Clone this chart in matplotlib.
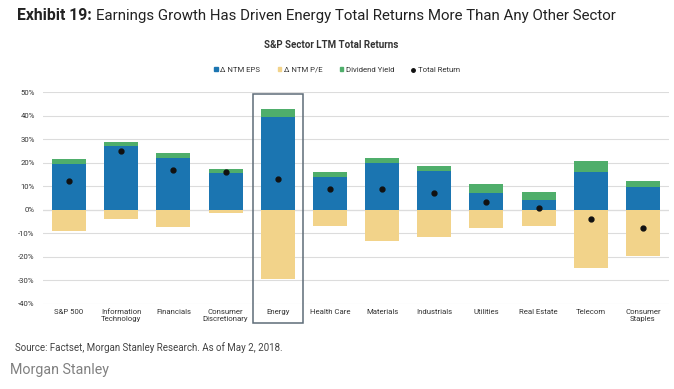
import matplotlib.pyplot as plt
from matplotlib.patches import Rectangle, Patch
from matplotlib.lines import Line2D
import numpy as np

sectors = ["S&P 500", "Information\nTechnology", "Financials", "Consumer\nDiscretionary",
           "Energy", "Health Care", "Materials", "Industrials", "Utilities",
           "Real Estate", "Telecom", "Consumer\nStaples"]
ntm_eps = [19.3, 27.2, 22.0, 15.5, 39.3, 14.0, 19.7, 16.6, 7.2, 4.0, 15.9, 9.5]
ntm_pe = [-8.9, -4.0, -7.4, -1.3, -29.6, -6.8, -13.2, -11.5, -7.8, -6.8, -24.9, -19.7]
div_yield = [2.1, 1.6, 2.2, 1.8, 3.4, 1.9, 2.3, 2.1, 3.7, 3.4, 5.0, 2.6]
total_return = [12.3, 24.8, 16.8, 15.9, 13.1, 8.9, 8.8, 7.2, 3.3, 0.6, -4.1, -7.7]

BLUE = "#1b75b1"
YELLOW = "#f2d38a"
GREEN = "#4fae6b"
W, H = 674, 389

plt.rcParams['font.family'] = ['Roboto', 'DejaVu Sans']

fig = plt.figure(figsize=(W / 100, H / 100), dpi=100)
ax = fig.add_axes([43 / W, 1 - 303.7 / H, (669 - 43) / W, (303.7 - 92.3) / H])

x = np.arange(len(sectors))
bw = 0.65
ax.bar(x, ntm_eps, bw, color=BLUE, zorder=2)
ax.bar(x, div_yield, bw, bottom=ntm_eps, color=GREEN, zorder=2)
ax.bar(x, ntm_pe, bw, color=YELLOW, zorder=2)
ax.plot(x, total_return, 'o', color="#111111", markersize=3.5, zorder=3)

ax.set_xlim(-0.5, len(sectors) - 0.5)
ax.set_ylim(-40, 50)
ax.set_yticks(range(-40, 51, 10))
ax.set_yticklabels([f"{v}%" for v in range(-40, 51, 10)])
ax.yaxis.grid(True, color="#dcdcdc", linewidth=0.8, zorder=0)
ax.axhline(0, color="#c4c4c4", linewidth=0.8, zorder=1)
for s in ax.spines.values():
    s.set_visible(False)
ax.tick_params(axis='both', length=0, labelsize=5.6, labelcolor="#333333")
ax.tick_params(axis='y', pad=6)
ax.tick_params(axis='x', pad=4)
ax.set_xticks(x)
ax.set_xticklabels(sectors, linespacing=1.1)

# highlight box around Energy
ax.add_patch(Rectangle((4 - 0.48, -48.2), 0.96, 97.6, fill=False,
                       edgecolor="#5e6c78", linewidth=1.1, clip_on=False, zorder=4))

fig.text(17 / W, 1 - 16 / H, "Exhibit 19:", fontsize=11.3, fontweight='bold',
         color="#222222", va='center', ha='left')
fig.text(96 / W, 1 - 16 / H,
         "Earnings Growth Has Driven Energy Total Returns More Than Any Other Sector",
         fontsize=10.85, color="#222222", va='center', ha='left')
fig.text(331 / W, 1 - 45 / H, "S&P Sector LTM Total Returns", fontsize=7,
         fontweight='bold', color="#333333", ha='center', va='center')

handles = [Patch(color=BLUE), Patch(color=YELLOW), Patch(color=GREEN),
           Line2D([], [], marker='o', linestyle='', color="#111111", markersize=2.5)]
labels = ["\u0394 NTM EPS", "\u0394 NTM P/E", "Dividend Yield", "Total Return"]
fig.legend(handles, labels, loc='center', bbox_to_anchor=(0.5, 1 - 70 / H), ncol=4,
           frameon=False, fontsize=5.6, handlelength=0.5, handleheight=0.5,
           handletextpad=0.3, columnspacing=2.2, labelcolor="#333333")

fig.text(15 / W, 1 - 347.5 / H, "Source: Factset, Morgan Stanley Research. As of May 2, 2018.",
         fontsize=7.05, color="#444444", ha='left', va='center')
fig.text(10 / W, 1 - 370 / H, "Morgan Stanley", fontsize=10.3, color="#808080",
         ha='left', va='center')

fig.savefig("out.png", dpi=100)
